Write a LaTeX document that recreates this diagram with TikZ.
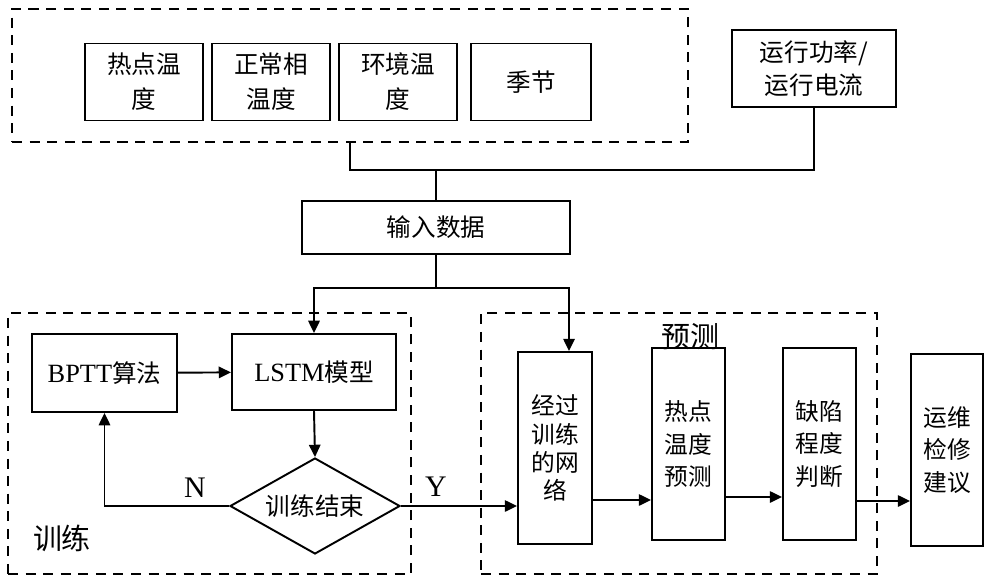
\documentclass[tikz,border=0pt]{standalone}
\usepackage{fontspec}
\setmainfont{Liberation Serif}
\newfontfamily\cjk{Noto Sans CJK SC}
\usetikzlibrary{shapes.geometric,arrows.meta}
\begin{document}
\begin{tikzpicture}[x=0.02cm,y=-0.02cm,
  box/.style={draw,line width=1.1pt,inner sep=0pt,align=center,font=\cjk\fontsize{14}{20}\selectfont},
  vbox/.style={box,minimum width=1.46cm,minimum height=3.84cm,font=\cjk\fontsize{13.5}{18.5}\selectfont},
  grp/.style={draw,line width=1.3pt,dash pattern=on 5.7pt off 4.3pt},
  ln/.style={line width=1.1pt},
  arr/.style={ln,-{Triangle[length=7pt,width=6.5pt]}},
  lbl/.style={font=\cjk\fontsize{16.5}{18}\selectfont,inner sep=0pt},
  yn/.style={font=\fontsize{17}{18}\selectfont,inner sep=0pt}]
\useasboundingbox (0,0) rectangle (1000,584);
% top group
\node[grp,minimum width=13.52cm,minimum height=2.66cm] (topgrp) at (350,75.5) {};
\node[box,minimum width=2.36cm,minimum height=1.54cm] (hot) at (144,82) {热点温\\度};
\node[box,minimum width=2.36cm,minimum height=1.54cm] (normal) at (271,82) {正常相\\温度};
\node[box,minimum width=2.36cm,minimum height=1.54cm] (env) at (398,82) {环境温\\度};
\node[box,minimum width=2.4cm,minimum height=1.54cm] (season) at (531,82) {季节};
\node[box,minimum width=3.28cm,minimum height=1.54cm,font=\cjk\fontsize{14}{19}\selectfont] (power) at (814,68.5) {运行功率/\\运行电流};
\node[box,minimum width=5.36cm,minimum height=1.06cm] (input) at (436,227.5) {输入数据};
% training group
\node[grp,minimum width=8.06cm,minimum height=5.22cm] (traingrp) at (209.5,443.5) {};
\node[box,minimum width=2.9cm,minimum height=1.56cm] (bptt) at (104.5,373) {{\rmfamily\fontsize{15}{18}\selectfont BPTT}算法};
\node[box,minimum width=3.28cm,minimum height=1.52cm] (lstm) at (314,372) {{\rmfamily\fontsize{15}{18}\selectfont LSTM}模型};
\node[draw,line width=1.1pt,diamond,aspect=1.77,inner sep=0pt,minimum width=3.4cm,minimum height=1.92cm,font=\cjk\fontsize{14}{18}\selectfont] (dia) at (315,506) {训练结束};
\node[lbl] (trainlbl) at (62,538) {训练};
\node[yn] (nlbl) at (195,488) {N};
\node[yn] (ylbl) at (436,487) {Y};
% prediction group
\node[grp,minimum width=7.92cm,minimum height=5.22cm] (predgrp) at (679,443.5) {};
\node[vbox,minimum width=1.48cm,font=\cjk\fontsize{13.5}{16}\selectfont] (net) at (555,448) {经过\\训练\\的网\\络};
\node[vbox] (hotpred) at (688.5,444) {热点\\温度\\预测};
\node[vbox] (defect) at (819.5,444) {缺陷\\程度\\判断};
\node[vbox,minimum width=1.44cm] (advice) at (947,450) {运维\\检修\\建议};
\node[lbl] (predlbl) at (690,337) {预测};
% connectors
\coordinate (j1) at (436,170);
\coordinate (j2) at (436,288);
\coordinate (jr) at (569,288);
\coordinate (ya) at (0,500);
\coordinate (yb) at (0,497);
\coordinate (yc) at (0,501);
\draw[ln] (topgrp.south) -- (topgrp.south |- j1) -- (power.south |- j1) -- (power.south);
\draw[ln] (j1) -- (input.north);
\draw[ln] (input.south) -- (j2);
\draw[arr] (j2) -| (lstm.north);
\draw[arr] (j2) -- (jr) -- (jr |- net.north);
\draw[arr] (bptt) -- (lstm);
\draw[arr] (lstm.south) -- (dia.north);
\draw[arr] (dia.west) -| (bptt.south);
\draw[arr] (dia.east) -- (dia.east -| net.west);
\draw[arr] (net.east |- ya) -- (hotpred.west |- ya);
\draw[arr] (hotpred.east |- yb) -- (defect.west |- yb);
\draw[arr] (defect.east |- yc) -- (advice.west |- yc);
\end{tikzpicture}
\end{document}
